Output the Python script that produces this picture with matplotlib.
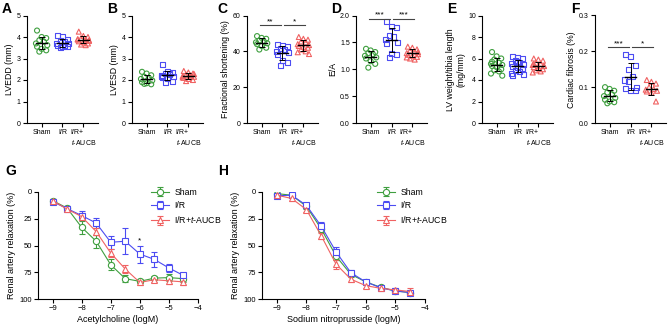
import numpy as np
import matplotlib
matplotlib.use("Agg")
import matplotlib.pyplot as plt

plt.rcParams['font.family'] = ['Liberation Sans', 'DejaVu Sans']
plt.rcParams['mathtext.fontset'] = 'custom'
plt.rcParams['mathtext.it'] = 'Liberation Sans:italic'
plt.rcParams['mathtext.rm'] = 'Liberation Sans'

GREEN = '#3f9f3f'
BLUE = '#4c4cf2'
RED = '#f06262'
colors = [GREEN, BLUE, RED]
markers = ['o', 's', '^']

groups = ['Sham', 'I/R', 'I/R+\n$t$-AUCB']
legend_labels = ['Sham', 'I/R', 'I/R+$t$-AUCB']

# ---- top row: echo / morphology values per animal ----
lvedd_sham = [4.3, 4.0, 3.95, 3.85, 3.78, 3.7, 3.62, 3.55, 3.45, 3.38, 3.32]
lvedd_ir = [4.05, 4.0, 3.9, 3.85, 3.78, 3.72, 3.68, 3.62, 3.58, 3.55, 3.5, 3.6]
lvedd_auc = [4.25, 4.05, 4.0, 3.95, 3.9, 3.88, 3.85, 3.8, 3.75, 3.7, 3.65, 3.62, 3.9, 3.82]

lvesd_sham = [2.38, 2.3, 2.22, 2.15, 2.1, 2.05, 1.98, 1.9, 1.85, 1.8, 1.82]
lvesd_ir = [2.7, 2.4, 2.35, 2.3, 2.25, 2.2, 2.18, 2.12, 2.05, 1.95, 1.88, 2.28, 2.15]
lvesd_auc = [2.42, 2.35, 2.3, 2.25, 2.2, 2.18, 2.15, 2.1, 2.05, 2.0, 1.95, 2.22, 2.12, 2.28]

fs_sham = [48.5, 47.5, 47, 46, 45.5, 45, 44.5, 44, 43, 42, 41]
fs_ir = [44, 43.5, 42.5, 41.5, 41, 40, 39.5, 38, 35, 33.5, 32]
fs_auc = [48, 47, 46.5, 45.5, 45, 44, 43.5, 43, 42.5, 42, 41, 40, 39.5, 38.5]

ea_sham = [1.38, 1.35, 1.32, 1.3, 1.28, 1.25, 1.22, 1.2, 1.15, 1.1, 1.03]
ea_ir = [1.88, 1.8, 1.78, 1.62, 1.6, 1.55, 1.5, 1.47, 1.3, 1.28, 1.22]
ea_auc = [1.42, 1.4, 1.37, 1.35, 1.33, 1.3, 1.28, 1.27, 1.25, 1.23, 1.2, 1.18, 1.22, 1.32]

lvw_sham = [6.6, 6.2, 6.0, 5.9, 5.6, 5.5, 5.4, 5.3, 5.2, 5.0, 4.9, 4.8, 4.6, 4.4, 5.7]
lvw_ir = [6.2, 6.1, 6.0, 5.8, 5.6, 5.5, 5.4, 5.3, 5.2, 5.0, 4.9, 4.8, 4.6, 4.5, 4.4, 5.7, 5.1]
lvw_auc = [6.0, 5.9, 5.8, 5.6, 5.5, 5.4, 5.3, 5.2, 5.1, 5.0, 4.9, 4.8, 4.7, 5.3, 5.5, 5.1]

fib_sham = [0.1, 0.095, 0.09, 0.085, 0.08, 0.075, 0.07, 0.065, 0.06, 0.058, 0.055]
fib_ir = [0.19, 0.185, 0.16, 0.15, 0.13, 0.12, 0.1, 0.095, 0.09, 0.092, 0.115]
fib_auc = [0.12, 0.115, 0.11, 0.1, 0.095, 0.093, 0.09, 0.088, 0.085, 0.06]

# ---- bottom row: concentration-response (mean, SEM) ----
log_conc = [-9, -8.5, -8, -7.5, -7, -6.5, -6, -5.5, -5, -4.5]

ach_sham = [8, 15, 33, 46, 68, 81, 83.5, 80.5, 80, 81]
ach_sham_err = [1.5, 2, 6, 6, 5, 3, 2, 2, 3, 3]
ach_ir = [9, 15.5, 22, 29, 47, 46, 58, 63, 71, 78]
ach_ir_err = [1.5, 2, 4, 5, 6, 12, 8, 7, 4, 2]
ach_auc = [8, 16, 23, 37, 57, 72, 84.5, 82, 83, 84]
ach_auc_err = [1.5, 2, 3, 3, 4, 4, 2, 2, 3, 3]

snp_sham = [1.5, 3, 13.5, 34.5, 60, 77, 84, 89, 92.5, 94]
snp_sham_err = [1, 1.5, 2, 3, 4, 2.5, 2, 1.5, 1.5, 1.5]
snp_ir = [3.5, 3, 12.5, 32, 56, 75.5, 84, 89.5, 92.5, 94]
snp_ir_err = [1, 1.5, 2, 4, 5, 2.5, 2, 1.5, 1.5, 1.5]
snp_auc = [3, 6, 16.5, 41, 67.5, 81.5, 87.5, 90, 91.5, 93]
snp_auc_err = [1, 2, 2, 3, 4, 3, 2, 2, 2, 3]


def style_axes(ax):
    for side in ['top', 'right']:
        ax.spines[side].set_visible(False)
    for side in ['left', 'bottom']:
        ax.spines[side].set_linewidth(0.8)
    ax.tick_params(width=0.8, length=3, labelsize=5, pad=1.5)


def jitter(n):
    # fixed spread pattern so points sit side by side like a scatter dot plot
    pattern = np.array([-0.22, 0.0, 0.22, -0.11, 0.11, -0.27, 0.27])
    return np.resize(pattern, n)


def dot_panel(ax, data, ylabel, ymax, yticks, fmt):
    for i, vals in enumerate(data):
        vals = np.array(vals)
        ax.scatter(i + jitter(len(vals)), vals, s=13, marker=markers[i],
                   facecolors='none', edgecolors=colors[i], linewidths=0.8, zorder=2)
        m, sd = vals.mean(), vals.std(ddof=1)
        ax.plot([i - 0.28, i + 0.28], [m, m], color='black', lw=1.0, zorder=3)
        ax.errorbar(i, m, yerr=sd, color='black', lw=0.7, capsize=2.5,
                    capthick=0.7, zorder=3)
    ax.set_xlim(-0.7, 2.7)
    ax.set_ylim(0, ymax)
    ax.set_yticks(yticks)
    ax.set_yticklabels([fmt.format(t) for t in yticks])
    ax.set_xticks([0, 1, 2])
    ax.set_xticklabels(groups, multialignment='left')
    ax.set_ylabel(ylabel, fontsize=6.3, labelpad=2)
    style_axes(ax)


def bracket(ax, x0, x1, y, text):
    ax.plot([x0, x1], [y, y], color='#444444', lw=0.8)
    ax.text((x0 + x1) / 2, y, text, ha='center', va='bottom', fontsize=6)


def curve_panel(ax, xlabel, series, errs):
    for i in range(3):
        ax.errorbar(log_conc, series[i], yerr=errs[i], color=colors[i], lw=0.8,
                    marker=markers[i], ms=4.5, mfc='white', mec=colors[i], mew=0.8,
                    capsize=2, capthick=0.8, label=legend_labels[i])
    ax.set_xlim(-9.5, -4)
    ax.set_ylim(100, 0)
    ax.set_xticks([-9, -8, -7, -6, -5, -4])
    ax.set_yticks([0, 25, 50, 75, 100])
    ax.set_xlabel(xlabel, fontsize=6.5, labelpad=2)
    ax.set_ylabel('Renal artery relaxation (%)', fontsize=6.5, labelpad=2)
    style_axes(ax)
    ax.tick_params(labelsize=5.5)
    ax.legend(loc='upper left', bbox_to_anchor=(0.66, 1.115), frameon=False,
              fontsize=6.3, handlelength=2.0, handletextpad=0.6, labelspacing=0.5)


def main():
    W, H = 669, 328
    fig = plt.figure(figsize=(W / 100, H / 100), dpi=100)

    top_lefts = [27, 132, 247, 356, 482, 595]
    axes = [fig.add_axes([l / W, 1 - 123 / H, 71 / W, 107.5 / H]) for l in top_lefts]

    dot_panel(axes[0], [lvedd_sham, lvedd_ir, lvedd_auc], 'LVEDD (mm)', 5, range(6), '{}')
    dot_panel(axes[1], [lvesd_sham, lvesd_ir, lvesd_auc], 'LVESD (mm)', 5, range(6), '{}')
    dot_panel(axes[2], [fs_sham, fs_ir, fs_auc], 'Fractional shortening (%)', 60, [0, 20, 40, 60], '{}')
    dot_panel(axes[3], [ea_sham, ea_ir, ea_auc], 'E/A', 2.0, [0, 0.5, 1.0, 1.5, 2.0], '{:.1f}')
    dot_panel(axes[4], [lvw_sham, lvw_ir, lvw_auc], 'LV weight/tibia length\n(mg/mm)', 10, [0, 2, 4, 6, 8, 10], '{}')
    dot_panel(axes[5], [fib_sham, fib_ir, fib_auc], 'Cardiac fibrosis (%)', 0.3, [0, 0.1, 0.2, 0.3], '{:.1f}')

    bracket(axes[2], -0.1, 0.95, 54.5, '**')
    bracket(axes[2], 1.05, 2.1, 54.5, '*')
    bracket(axes[3], -0.1, 0.95, 1.94, '***')
    bracket(axes[3], 1.05, 2.1, 1.94, '***')
    bracket(axes[5], -0.1, 0.95, 0.212, '***')
    bracket(axes[5], 1.05, 2.1, 0.212, '*')

    letter_x = [2, 107, 217, 331, 447, 571]
    for x, letter in zip(letter_x, 'ABCDEF'):
        fig.text(x / W, 1 - 2 / H, letter, fontsize=10, fontweight='bold', va='top')

    axg = fig.add_axes([38 / W, 1 - 299 / H, 160 / W, 107 / H])
    curve_panel(axg, 'Acetylcholine (logM)', [ach_sham, ach_ir, ach_auc],
                [ach_sham_err, ach_ir_err, ach_auc_err])
    axg.text(-6, 49, '*', ha='center', va='bottom', fontsize=6)

    axh = fig.add_axes([262 / W, 1 - 299 / H, 163 / W, 107 / H])
    curve_panel(axh, 'Sodium nitroprusside (logM)', [snp_sham, snp_ir, snp_auc],
                [snp_sham_err, snp_ir_err, snp_auc_err])

    fig.text(5 / W, 1 - 164 / H, 'G', fontsize=10, fontweight='bold', va='top')
    fig.text(218 / W, 1 - 164 / H, 'H', fontsize=10, fontweight='bold', va='top')

    fig.savefig('out.png', dpi=100)


if __name__ == "__main__":
    main()
